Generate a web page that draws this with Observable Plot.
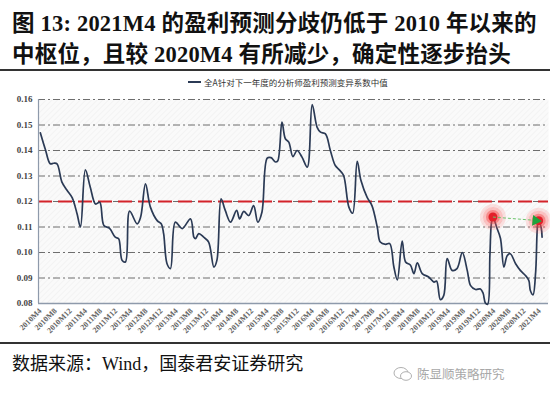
<!DOCTYPE html>
<html>
<head>
<meta charset="utf-8">
<script src="https://cdn.jsdelivr.net/npm/d3@7"></script>
<script src="https://cdn.jsdelivr.net/npm/@observablehq/plot@0.6"></script>
<style>
  html, body { margin: 0; padding: 0; background: #fff; }
  #wrap { position: relative; width: 550px; height: 396px; overflow: hidden; }
  .title { position: absolute; left: 12px; font-family: "Liberation Serif", "Noto Sans CJK SC", serif; font-weight: bold; font-size: 22.5px; color: #111; white-space: nowrap; letter-spacing: 0.2px; }
  .rule { position: absolute; left: 0; width: 550px; height: 1.5px; background: #333; }
  #legend { position: absolute; top: 76px; left: 188px; font-family: "Noto Sans CJK SC", sans-serif; font-size: 8.5px; color: #333; white-space: nowrap; display: flex; align-items: center; }
  #legend .sw { display: inline-block; width: 13px; height: 1.6px; background: #2b3a55; margin-right: 3px; }
  #chart { position: absolute; top: 88px; left: 0; }
  #source { position: absolute; top: 349px; left: 12px; font-family: "Liberation Serif", "Noto Sans CJK SC", serif; font-size: 18px; color: #111; white-space: nowrap; }
  #wm { position: absolute; top: 364px; left: 393px; font-family: "Noto Sans CJK SC", sans-serif; font-size: 12.5px; color: #a8a8a8; white-space: nowrap; display: flex; align-items: center; }
</style>
</head>
<body>
<div id="wrap">
  <div class="title" style="top:5px">图 13: 2021M4 的盈利预测分歧仍低于 2010 年以来的</div>
  <div class="title" style="top:36px">中枢位，且较 2020M4 有所减少，确定性逐步抬头</div>
  <div class="rule" style="top:69px"></div>
  <div id="legend"><span class="sw"></span>全A针对下一年度的分析师盈利预测变异系数中值</div>
  <div id="chart"></div>
  <div class="rule" style="top:342px"></div>
  <div id="source">数据来源：Wind，国泰君安证券研究</div>
  <div id="wm"><svg width="20" height="16" viewBox="0 0 20 16" style="margin-right:4px"><ellipse cx="8" cy="7" rx="7" ry="5.5" fill="none" stroke="#b0b0b0" stroke-width="1"/><ellipse cx="13" cy="10" rx="5.5" ry="4.3" fill="#fff" stroke="#b0b0b0" stroke-width="1"/></svg>陈显顺策略研究</div>
</div>
<script>
// months since 2010M4
const months = [0, 1.3, 2.6, 3.5, 4.4, 5.7, 7.0, 8.4, 9.7, 10.6, 11.9, 13.2, 14.6, 15.7, 16.8, 18.3, 19.8, 20.7, 21.6, 22.5,
  23.6, 25.6, 26.5, 27.8, 29.1, 30.9, 32.0, 32.6, 33.5, 34.4, 35.7, 37.5, 39.7, 40.6, 41.0, 41.9, 43.2, 44.5, 45.9, 46.7,
  47.8, 48.9, 50.3, 51.9, 52.7, 53.8, 55.1, 56.4, 57.5, 58.6, 60.0, 61.0, 62.2, 62.8, 63.9, 64.8, 65.7, 66.8, 67.9, 69.2,
  70.6, 71.9, 73.2, 74.1, 75.4, 76.7, 78.0, 79.2, 80.2, 81.6, 82.6, 83.8, 84.8, 86.4, 87.7, 89.1, 89.9, 91.3, 92.4, 93.5,
  94.4, 95.7, 96.6, 97.9, 98.8, 99.7, 101.0, 102.7, 104.1, 104.8, 105.8, 106.7, 107.6, 108.9, 110.2, 111.6, 112.9, 113.8, 115.1, 116.4,
  117.1, 117.7, 118.3, 118.9, 119.3, 119.7, 120.8, 121.7, 122.6, 123.5, 124.3, 125.7, 127.0, 128.3, 129.2, 129.6, 130.3, 131.0, 131.6, 131.8,
  132.5, 132.7];
const values = [0.1469, 0.1405, 0.1348, 0.1350, 0.1348, 0.1276, 0.1245, 0.1215, 0.1152, 0.1100, 0.1324, 0.1256, 0.1190, 0.1197, 0.1106, 0.1095, 0.1060, 0.1054, 0.0970, 0.0963,
  0.1162, 0.1112, 0.1138, 0.1269, 0.1178, 0.1125, 0.1112, 0.1074, 0.0956, 0.0937, 0.1119, 0.1094, 0.1132, 0.1060, 0.1054, 0.1074, 0.1060, 0.1041, 0.0943, 0.0970,
  0.1210, 0.1165, 0.1119, 0.1165, 0.1132, 0.1161, 0.1145, 0.1184, 0.1119, 0.1158, 0.1370, 0.1372, 0.1355, 0.1360, 0.1511, 0.1446, 0.1433, 0.1376, 0.1400, 0.1374,
  0.1335, 0.1580, 0.1491, 0.1472, 0.1465, 0.1400, 0.1341, 0.1322, 0.1302, 0.1178, 0.1154, 0.1357, 0.1282, 0.1217, 0.1184, 0.1100, 0.1041, 0.1032, 0.1035, 0.0943,
  0.0893, 0.1045, 0.0963, 0.0950, 0.0917, 0.0959, 0.0917, 0.0904, 0.0884, 0.0888, 0.0815, 0.0832, 0.0976, 0.0930, 0.0937, 0.1000, 0.0930, 0.0870, 0.0855, 0.0857,
  0.0840, 0.0802, 0.0797, 0.0988, 0.1115, 0.1139, 0.1094, 0.1055, 0.0943, 0.0988, 0.0995, 0.0956, 0.0929, 0.0910, 0.0890, 0.0851, 0.0834, 0.0923, 0.1120, 0.1125,
  0.1094, 0.1060];

const tickLabels = ["2010M4","2010M8","2010M12","2011M4","2011M8","2011M12","2012M4","2012M8","2012M12",
  "2013M4","2013M8","2013M12","2014M4","2014M8","2014M12","2015M4","2015M8","2015M12",
  "2016M4","2016M8","2016M12","2017M4","2017M8","2017M12","2018M4","2018M8","2018M12",
  "2019M4","2019M8","2019M12","2020M4","2020M8","2020M12","2021M4"];
const tickMonths = tickLabels.map((_, i) => i * 4);
const yTicks = [0.08, 0.09, 0.10, 0.11, 0.12, 0.13, 0.14, 0.15, 0.16];
const centerLine = [0.12];

// highlighted points: 2020M4 peak and 2021M4 peak
const annoMonths = [119.7, 131.8];
const annoValues = [0.1139, 0.1125];

const data = months.map((t, i) => ({t, v: values[i]}));
const anno = annoMonths.map((t, i) => ({t, v: annoValues[i]}));
const arrowData = [{x1: annoMonths[0], y1: annoValues[0], x2: annoMonths[1], y2: annoValues[1]}];

const xDomain = [-0.5, 134.4];
const tickFont = "Liberation Serif, serif";

const chart = Plot.plot({
  width: 550,
  height: 254,
  marginTop: 11,
  marginBottom: 39,
  marginLeft: 38,
  marginRight: 2,
  style: {background: "transparent", overflow: "visible"},
  x: {domain: xDomain, axis: null},
  y: {domain: [0.08, 0.16], axis: null},
  marks: [
    Plot.frame({fill: "url(#hatch)", stroke: null}),
    Plot.gridY(yTicks.slice(1), {stroke: "#555", strokeOpacity: 0.85, strokeWidth: 1, strokeDasharray: "7,3,2,3"}),
    Plot.ruleY(centerLine, {stroke: "#d3232a", strokeWidth: 2.2, strokeDasharray: "14,6"}),
    Plot.ruleX([xDomain[0]], {stroke: "#8e9aab", strokeWidth: 1.2}),
    Plot.ruleY([0.08], {stroke: "#8e9aab", strokeWidth: 1.6}),
    Plot.axisY(yTicks, {tickSize: 0, tickPadding: 6, tickFormat: d3.format(".2f"), fontSize: 9, fontWeight: "bold", fontFamily: tickFont, fill: "#444"}),
    Plot.axisX(tickMonths, {tickSize: 0, tickPadding: 6, tickRotate: -45, tickFormat: (d) => tickLabels[d / 4], fontSize: 8, fontWeight: "bold", fontFamily: tickFont, fill: "#666"}),
    Plot.line(data, {x: "t", y: "v", curve: "catmull-rom", stroke: "#2b3a55", strokeWidth: 1.7}),
    Plot.dot(anno, {x: "t", y: "v", r: 13, fill: "#ff5a5a", fillOpacity: 0.16, stroke: null}),
    Plot.dot(anno, {x: "t", y: "v", r: 10, fill: "#ff5a5a", fillOpacity: 0.22, stroke: null}),
    Plot.dot(anno, {x: "t", y: "v", r: 7, fill: "#f04040", fillOpacity: 0.42, stroke: null}),
    Plot.dot(anno, {x: "t", y: "v", r: 4.5, fill: "#e3202a", stroke: null}),
    Plot.link(arrowData, {x1: "x1", y1: "y1", x2: "x2", y2: "y2", stroke: "#6cc46c", strokeWidth: 1, strokeDasharray: "3,2"}),
    Plot.dot(anno.slice(1), {x: "t", y: "v", symbol: "triangle", r: 4, rotate: 96, dx: -3, fill: "#1fa33c", stroke: null})
  ]
});

chart.insertAdjacentHTML("afterbegin",
  '<defs><pattern id="hatch" width="4" height="4" patternUnits="userSpaceOnUse" patternTransform="rotate(45)">' +
  '<rect width="4" height="4" fill="#fafafa"/><line x1="0" y1="0" x2="0" y2="4" stroke="#efefef" stroke-width="1.2"/></pattern></defs>');

document.getElementById("chart").appendChild(chart);
</script>
</body>
</html>
